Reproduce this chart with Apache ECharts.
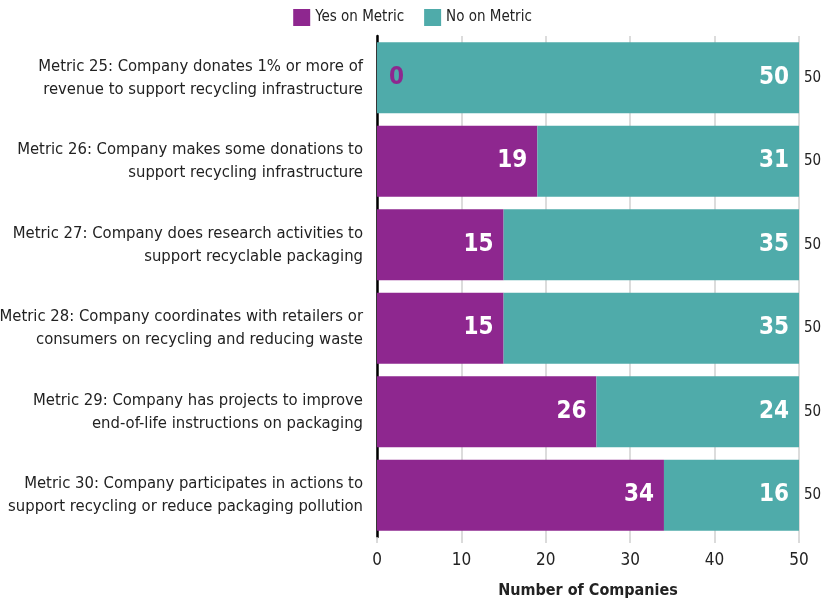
<!DOCTYPE html>
<html>
<head>
<meta charset="utf-8">
<script src="https://cdn.jsdelivr.net/npm/echarts@6/dist/echarts.min.js"></script>
<style>
  html, body { margin: 0; padding: 0; background: #fff; }
  #chart { width: 825px; height: 602px; }
</style>
</head>
<body>
<div id="chart"></div>
<script>
var categories = [
  'Metric 25: Company donates 1% or more of\nrevenue to support recycling infrastructure',
  'Metric 26: Company makes some donations to\nsupport recycling infrastructure',
  'Metric 27: Company does research activities to\nsupport recyclable packaging',
  'Metric 28: Company coordinates with retailers or\nconsumers on recycling and reducing waste',
  'Metric 29: Company has projects to improve\nend-of-life instructions on packaging',
  'Metric 30: Company participates in actions to\nsupport recycling or reduce packaging pollution'
];
var yesValues = [0, 19, 15, 15, 26, 34];
var noValues = [50, 31, 35, 35, 24, 16];
var totals = [50, 50, 50, 50, 50, 50];
var xTicks = [0, 10, 20, 30, 40, 50];

var PURPLE = '#8e278f';
var TEAL = '#4fabaa';
var FONT = "'Liberation Sans Narrow', 'DejaVu Sans Condensed', sans-serif";

var chart = echarts.init(document.getElementById('chart'));
var option = {
  animation: false,
  textStyle: { fontFamily: FONT },
  legend: {
    top: 4,
    left: 'center',
    itemWidth: 17,
    itemHeight: 17,
    itemGap: 20,
    icon: 'rect',
    textStyle: { fontSize: 15, color: '#222', fontFamily: FONT },
    data: ['Yes on Metric', 'No on Metric']
  },
  grid: { left: 377, right: 26, top: 36, height: 501, containLabel: false, outerBoundsMode: 'none' },
  xAxis: {
    type: 'value',
    min: xTicks[0],
    max: xTicks[xTicks.length - 1],
    interval: 10,
    name: 'Number of Companies',
    nameLocation: 'middle',
    nameGap: 46,
    nameTextStyle: { fontSize: 16, fontWeight: 'bold', color: '#222', fontFamily: FONT },
    axisLine: { show: false },
    axisTick: { show: true, length: 6, lineStyle: { color: '#d0d0d0', width: 1.5 } },
    axisLabel: { fontSize: 17, color: '#222', margin: 15, fontFamily: FONT },
    splitLine: { show: true, lineStyle: { color: '#d0d0d0', width: 1.5 } }
  },
  yAxis: {
    type: 'category',
    inverse: true,
    data: categories,
    axisLine: { show: true, lineStyle: { color: '#000', width: 2.5 } },
    axisTick: { show: false },
    axisLabel: {
      fontSize: 16.5, color: '#222', margin: 14, align: 'right', lineHeight: 23,
      fontFamily: FONT
    }
  },
  series: [
    {
      name: 'Yes on Metric',
      type: 'bar',
      stack: 'total',
      barCategoryGap: '15%',
      itemStyle: { color: PURPLE },
      data: yesValues.map(function (v) {
        if (v === 0) {
          return { value: v, label: { position: 'right', distance: 12, color: PURPLE } };
        }
        return v;
      }),
      label: {
        show: true, position: 'insideRight', distance: 10,
        color: '#fff', fontSize: 24, fontWeight: 'bold', fontFamily: FONT
      }
    },
    {
      name: 'No on Metric',
      type: 'bar',
      stack: 'total',
      itemStyle: { color: TEAL },
      data: noValues,
      label: {
        show: true, position: 'insideRight', distance: 10,
        color: '#fff', fontSize: 24, fontWeight: 'bold', fontFamily: FONT
      }
    },
    {
      name: 'Total',
      type: 'bar',
      stack: 'total',
      data: totals.map(function () { return 0; }),
      itemStyle: { color: 'transparent' },
      label: {
        show: true, position: 'right', distance: 5,
        color: '#222', fontSize: 15, fontFamily: FONT,
        formatter: function (p) { return totals[p.dataIndex]; }
      }
    }
  ]
};
chart.setOption(option);
</script>
</body>
</html>
